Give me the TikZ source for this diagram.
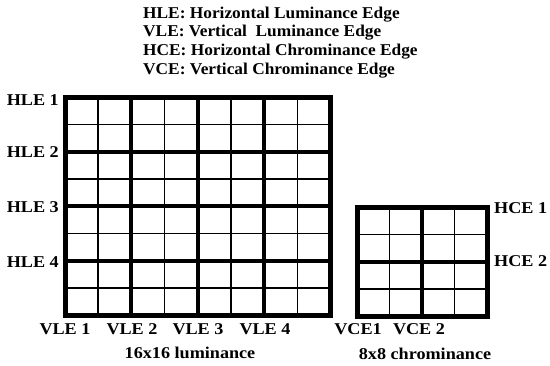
\documentclass[tikz,border=0pt]{standalone}
\usepackage{graphicx}
\usepackage{fontspec}
\setmainfont{Liberation Serif}
% slightly widened bold text
\newcommand{\wtxt}[1]{\scalebox{1.1}[1]{#1}}
\newcommand{\ltxt}[1]{\scalebox{1.05}[1]{#1}}
\begin{document}
\begin{tikzpicture}[x=1pt,y=-1pt,
  lbl/.style={inner sep=0pt,font=\fontsize{16.5}{19}\selectfont\bfseries},
  thinline/.style={line width=1.6pt},
  thickline/.style={line width=4pt},
  frameline/.style={line width=5pt,line join=miter}]
\useasboundingbox (0,0) rectangle (550,365);

% legend
\node[lbl,anchor=west] (l1) at (143,14.5) {\ltxt{HLE: Horizontal Luminance Edge}};
\node[lbl,anchor=west] (l2) at (143,33) {\ltxt{VLE: Vertical~ Luminance Edge}};
\node[lbl,anchor=west] (l3) at (143,52) {\ltxt{HCE: Horizontal Chrominance Edge}};
\node[lbl,anchor=west] (l4) at (143,71) {\ltxt{VCE: Vertical Chrominance Edge}};

% 16x16 luminance block: 8x8 cells of 2x2 pixels
\def\lx{65}\def\ly{97}\def\lw{33.2}\def\lh{27.3}
\foreach \i in {1,3,5,7} {
  \draw[thinline] (\lx+\i*\lw,\ly) -- (\lx+\i*\lw,\ly+8*\lh);
  \draw[thinline] (\lx,\ly+\i*\lh) -- (\lx+8*\lw,\ly+\i*\lh);
}
\foreach \i in {2,4,6} {
  \draw[thickline] (\lx+\i*\lw,\ly) -- (\lx+\i*\lw,\ly+8*\lh);
  \draw[thickline] (\lx,\ly+\i*\lh) -- (\lx+8*\lw,\ly+\i*\lh);
}
\draw[frameline] (\lx,\ly) rectangle (\lx+8*\lw,\ly+8*\lh);

% 8x8 chrominance block
\def\cx{357}\def\cy{207}\def\cw{32.5}\def\ch{27.3}
\foreach \i in {1,3} {
  \draw[thinline] (\cx+\i*\cw,\cy) -- (\cx+\i*\cw,\cy+4*\ch);
  \draw[thinline] (\cx,\cy+\i*\ch) -- (\cx+4*\cw,\cy+\i*\ch);
}
\draw[thickline] (\cx+2*\cw,\cy) -- (\cx+2*\cw,\cy+4*\ch);
\draw[thickline] (\cx,\cy+2*\ch) -- (\cx+4*\cw,\cy+2*\ch);
\draw[frameline] (\cx,\cy) rectangle (\cx+4*\cw,\cy+4*\ch);

% horizontal edge labels
\node[lbl,anchor=east] (hle1) at (59,100) {\wtxt{HLE 1}};
\node[lbl,anchor=east] (hle2) at (59,152) {\wtxt{HLE 2}};
\node[lbl,anchor=east] (hle3) at (59,207) {\wtxt{HLE 3}};
\node[lbl,anchor=east] (hle4) at (59,262) {\wtxt{HLE 4}};
\node[lbl,anchor=west] (hce1) at (494,208) {\wtxt{HCE 1}};
\node[lbl,anchor=west] (hce2) at (494,261) {\wtxt{HCE 2}};

% vertical edge labels
\node[lbl] (vle1) at (65,329) {\wtxt{VLE 1}};
\node[lbl] (vle2) at (132,329) {\wtxt{VLE 2}};
\node[lbl] (vle3) at (198,329) {\wtxt{VLE 3}};
\node[lbl] (vle4) at (265,329) {\wtxt{VLE 4}};
\node[lbl] (vce1) at (358,329) {\wtxt{VCE1}};
\node[lbl] (vce2) at (419,329) {\wtxt{VCE 2}};

% block captions
\node[lbl] (cap1) at (190,353) {\wtxt{16x16 luminance}};
\node[lbl] (cap2) at (425,354) {\wtxt{8x8 chrominance}};
\end{tikzpicture}
\end{document}
